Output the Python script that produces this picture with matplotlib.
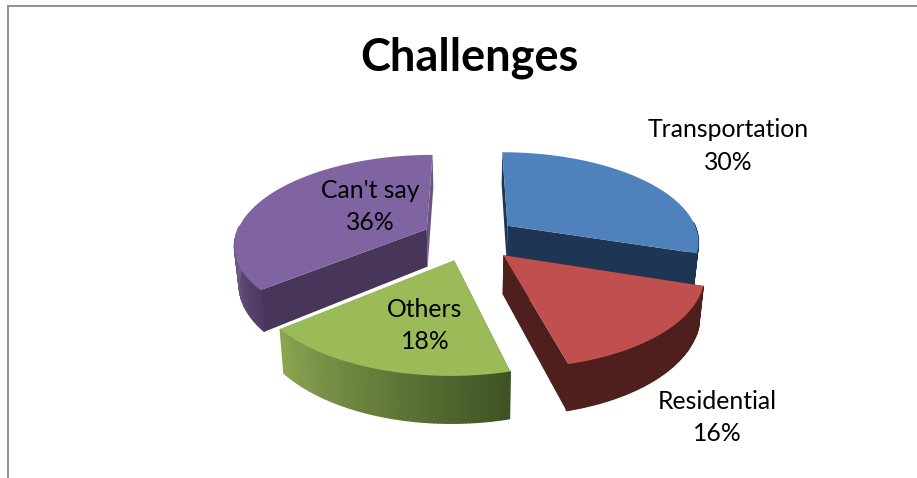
import numpy as np
import matplotlib
matplotlib.use("Agg")
import matplotlib.pyplot as plt
from matplotlib.patches import Polygon
from matplotlib.colors import to_rgb

labels = ["Transportation", "Residential", "Others", "Can't say"]
shares = [30, 16, 18, 36]
top_colors = ["#4f81bd", "#c0504d", "#9bbb59", "#8064a2"]
wall_start = ["#1f3554", "#4f1f1d", "#3f5223", "#4d3b63"]
wall_end = ["#1f3554", "#4f1f1d", "#8ba551", "#76608f"]
cut_start = ["#1f3554", "#4f1f1d", "#3f5223", "#47365a"]
cut_end = ["#1f3554", "#4f1f1d", "#8ba551", "#6a5585"]

# pixel geometry of the fake 3d pie
CX, CY = 469.5, 238.5
RX, RY = 192, 89
PERSP = 0.16
EXPLODE = 0.25
DEPTH = 38
SHRINK = 0.02


def project(u, v, z=0.0):
    s = 1 / (1 + PERSP * v)
    x = CX + RX * u * s * (1 - SHRINK * z / DEPTH)
    return x, CY - (RY * v - z) * s


def blend(c1, c2, t):
    c1, c2 = np.array(to_rgb(c1)), np.array(to_rgb(c2))
    return tuple(c1 + (c2 - c1) * t)


fig = plt.figure(figsize=(9.17, 4.78), dpi=100)
ax = fig.add_axes([0, 0, 1, 1])
ax.set_xlim(0, 917)
ax.set_ylim(478, 0)
ax.axis("off")

# frame, cut off by the screenshot at the bottom and right
ax.plot([8.3, 8.3, 917], [478, 5.8, 5.8], color="#909090", lw=1.4,
        solid_joinstyle="miter")

ax.text(469.5, 58, "Challenges", ha="center", va="center", fontsize=32.5,
        fontweight="bold", family="Lato", color="black")

bounds = 90 - np.cumsum([0] + shares) * 3.6
slices = []
for i in range(len(shares)):
    mid = np.radians((bounds[i] + bounds[i + 1]) / 2)
    ou, ov = EXPLODE * np.cos(mid), EXPLODE * np.sin(mid)
    t = np.radians(np.linspace(bounds[i], bounds[i + 1], 60))
    slices.append((i, ou, ov, t))

# back slices first so the front ones overlap them
for i, ou, ov, t in sorted(slices, key=lambda s: -s[2]):
    u = ou + np.cos(t)
    v = ov + np.sin(t)
    top = [project(a, b) for a, b in zip(u, v)]
    bottom = [project(a, b, DEPTH) for a, b in zip(u, v)]
    apex = project(ou, ov)
    apex_low = project(ou, ov, DEPTH)

    # the two cut faces
    ax.add_patch(Polygon([apex, top[0], bottom[0], apex_low], closed=True,
                         fc=cut_start[i], ec="none", zorder=2 + i / 10))
    ax.add_patch(Polygon([apex, top[-1], bottom[-1], apex_low], closed=True,
                         fc=cut_end[i], ec="none", zorder=2 + i / 10))

    # curved wall, shaded piece by piece, only the part facing the viewer
    vis = np.where(np.sin(t) < 0.05)[0]
    if len(vis) > 1:
        for n, (j, k) in enumerate(zip(vis[:-1], vis[1:])):
            col = blend(wall_start[i], wall_end[i], n / max(len(vis) - 2, 1))
            ax.add_patch(Polygon([top[j], top[k], bottom[k], bottom[j]],
                                 closed=True, fc=col, ec=col, lw=1,
                                 zorder=2.5 + i / 10))

    ax.add_patch(Polygon([apex] + top, closed=True, fc=top_colors[i],
                         ec="none", zorder=3 + i / 10))

label_pos = [(728.5, 146), (717.5, 417.5), (425, 325.5), (370, 206.5)]
for name, share, (lx, ly) in zip(labels, shares, label_pos):
    ax.text(lx, ly, f"{name}\n{share}%", ha="center", va="center", fontsize=17.8,
            family="Lato", color="black", linespacing=1.5, zorder=10)

fig.savefig("out.png", dpi=100)
